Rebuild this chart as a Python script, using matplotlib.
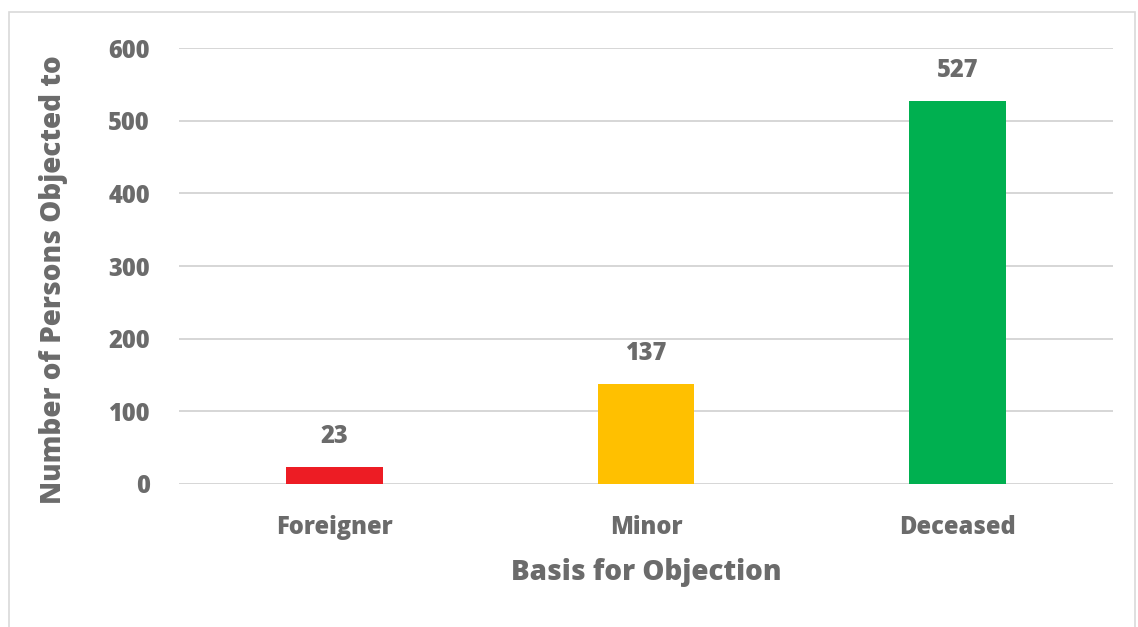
import matplotlib.pyplot as plt
from matplotlib.patches import Rectangle

categories = ['Foreigner', 'Minor', 'Deceased']
counts = [23, 137, 527]
bar_colors = ['#ED1C24', '#FFC000', '#00B050']
y_ticks = [0, 100, 200, 300, 400, 500, 600]

text_color = '#6b6b6b'
plt.rcParams['font.family'] = ['Open Sans', 'DejaVu Sans']
plt.rcParams['font.weight'] = 'heavy'

fig = plt.figure(figsize=(11.38, 6.27), dpi=100)
ax = fig.add_axes([0.1573, 0.2281, 0.8207, 0.6953])

# light border around the chart area
fig.patches.append(Rectangle((9 / 1138, -0.05), 1126 / 1138, 1.05 - 12 / 627,
                             transform=fig.transFigure, fill=False,
                             edgecolor='#d9d9d9', linewidth=1.2))

x = range(len(categories))
bars = ax.bar(x, counts, width=0.31, color=bar_colors, zorder=3)

for b, v in zip(bars, counts):
    ax.text(b.get_x() + b.get_width() / 2, v + 25, str(v), ha='center', va='bottom',
            fontsize=17, fontweight='heavy', color=text_color)

ax.set_xlim(-0.5, 2.5)
ax.set_ylim(0, 600)
ax.set_yticks(y_ticks)
ax.set_xticks(list(x))
ax.set_xticklabels(categories)
ax.yaxis.grid(True, color='#d0d0d0', linewidth=1.2, zorder=0)
ax.tick_params(axis='both', length=0, labelsize=17, labelcolor=text_color)
ax.tick_params(axis='y', pad=21)
ax.tick_params(axis='x', pad=22)
for s in ax.spines.values():
    s.set_visible(False)

ax.set_xlabel('Basis for Objection', fontsize=20, fontweight='heavy', color=text_color, labelpad=13)
ax.set_ylabel('Number of Persons Objected to', fontsize=20, fontweight='heavy', color=text_color)
ax.yaxis.set_label_coords(-0.119, 0.468)

fig.savefig('out.png', dpi=100)
